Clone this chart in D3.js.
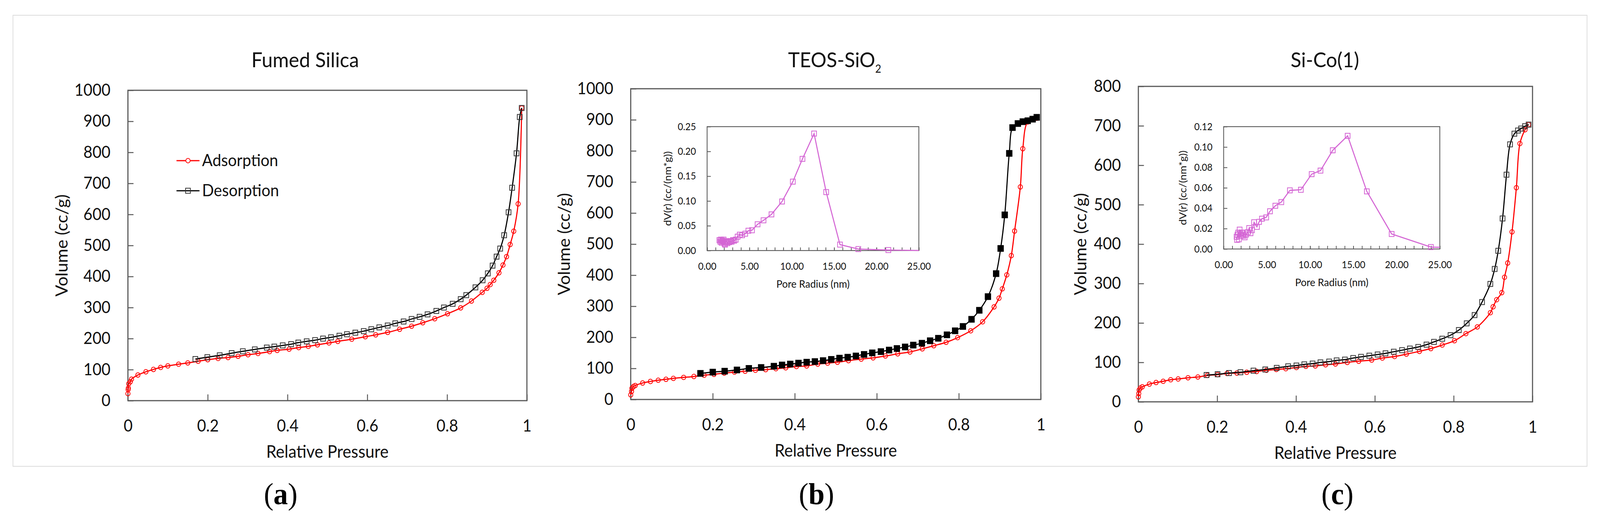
<!DOCTYPE html>
<html><head><meta charset="utf-8">
<script src="https://cdn.jsdelivr.net/npm/d3@7"></script>
<style>html,body{margin:0;padding:0;background:#fff;overflow:hidden;width:100%;height:100%;} svg{display:block;width:100vw;height:100vh;}</style>
</head><body>
<svg id="chart" viewBox="0 0 4315 1338" preserveAspectRatio="none"></svg>
<script>
// ================= DATA =================
const panelTitles = ["Fumed Silica", "TEOS-SiO", "Si-Co(1)"];
const titleSubscripts = ["", "2", ""];
const panelLetters = ["a", "b", "c"];
const seriesNames = ["Adsorption", "Desorption"];
const xAxisTitle = "Relative Pressure";
const yAxisTitle = "Volume (cc/g)";
const insetXTitle = "Pore Radius (nm)";
const insetYTitle = "dV(r) (cc/(nm*g))";

const pressureTicks = [0, 0.2, 0.4, 0.6, 0.8, 1];
const volumeTicks1000 = [0, 100, 200, 300, 400, 500, 600, 700, 800, 900, 1000];
const volumeTicks800 = [0, 100, 200, 300, 400, 500, 600, 700, 800];
const radiusLabelTicks = [0, 5, 10, 15, 20, 25];
const radiusMinorTicks = d3.range(0, 26, 1);
const teosPoreTicks = [0, 0.05, 0.10, 0.15, 0.20, 0.25];
const sicoPoreTicks = [0, 0.02, 0.04, 0.06, 0.08, 0.10, 0.12];

// (a) Fumed silica
const fumedAdsP = [0.000,0.0005,0.001,0.002,0.006,0.009,0.025,0.045,0.064,0.082,0.100,0.127,0.150,0.176,0.200,0.226,0.251,0.276,0.301,0.326,0.355,0.374,0.404,0.428,0.452,0.475,0.504,0.526,0.561,0.595,0.621,0.651,0.681,0.711,0.739,0.769,0.801,0.834,0.861,0.888,0.900,0.908,0.917,0.930,0.940,0.949,0.958,0.967,0.978,0.987];
const fumedAdsV = [22.6,35.6,40.6,54.5,60.8,69.2,82.6,93,100.6,107,112,117.4,121.6,127,132,136,139,143,148,152,158,162,166,171,175,180,186,191,198,206,212,220,230,240,251,264,280,299,321,349,362,374,388,412,437,464,503,546,634,943];
const fumedDesP = [0.987,0.982,0.974,0.963,0.954,0.943,0.933,0.924,0.914,0.902,0.889,0.871,0.848,0.834,0.814,0.792,0.773,0.751,0.731,0.711,0.691,0.670,0.651,0.630,0.610,0.591,0.570,0.549,0.530,0.509,0.489,0.469,0.448,0.427,0.409,0.388,0.367,0.348,0.318,0.288,0.260,0.230,0.199,0.169];
const fumedDesV = [943,914,797,686,607,533,490,464,435,410,388,365,340,327,312,300,289,278,270,263,255,249,242,236,230,224,219,214,209,204,200,195,191,187,182,178,174,171,165,159,153,146,140,134];

// (b) TEOS-SiO2
const teosAdsP = [0.000,0.002,0.003,0.007,0.011,0.029,0.048,0.067,0.086,0.104,0.129,0.154,0.179,0.203,0.228,0.253,0.279,0.304,0.329,0.354,0.378,0.404,0.429,0.456,0.480,0.504,0.531,0.562,0.591,0.621,0.651,0.681,0.711,0.739,0.769,0.797,0.829,0.858,0.886,0.898,0.906,0.917,0.928,0.936,0.950,0.956,0.968,0.990];
const teosAdsV = [15,26,36,42,45,53,58,62,65,68,71,74,78,81,85,88,91,94,96,99,102,106,108,114,117,120,125,130,134,140,147,153,163,173,184,199,221,250,298,326,356,401,463,542,684,807,893,905];
const teosDesP = [0.990,0.980,0.968,0.956,0.944,0.931,0.923,0.912,0.902,0.891,0.871,0.850,0.831,0.810,0.791,0.771,0.750,0.730,0.710,0.689,0.669,0.649,0.630,0.610,0.589,0.569,0.549,0.529,0.509,0.489,0.469,0.449,0.429,0.409,0.389,0.369,0.349,0.318,0.288,0.259,0.229,0.200,0.170];
const teosDesV = [908,902,897,894,888,875,792,594,486,405,331,287,258,235,221,208,197,189,181,175,169,164,159,154,150,145,140,136,133,129,125,122,120,117,114,111,107,103,100,95,91,88,84];
const teosPoreR = [1.45,1.55,1.62,1.70,1.78,1.86,1.95,2.05,2.12,2.20,2.30,2.40,2.50,2.62,2.75,2.90,3.05,3.20,3.38,3.60,3.85,4.14,4.50,4.87,5.30,5.96,6.66,7.60,8.85,10.12,11.26,12.63,14.06,15.69,17.85,21.40,25.50];
const teosPoreDV = [0.021,0.018,0.022,0.016,0.020,0.019,0.022,0.014,0.012,0.017,0.019,0.015,0.018,0.017,0.019,0.018,0.021,0.020,0.022,0.028,0.032,0.031,0.034,0.040,0.041,0.053,0.061,0.073,0.099,0.139,0.185,0.236,0.118,0.012,0.003,0.001,0.000];

// (c) Si-Co(1)
const sicoAdsP = [0.000,0.001,0.002,0.005,0.010,0.028,0.045,0.063,0.082,0.101,0.126,0.151,0.175,0.201,0.225,0.250,0.275,0.300,0.325,0.350,0.374,0.401,0.425,0.449,0.475,0.500,0.530,0.559,0.592,0.619,0.650,0.680,0.713,0.742,0.771,0.802,0.831,0.860,0.893,0.900,0.909,0.922,0.929,0.937,0.948,0.959,0.968,0.981,0.990];
const sicoAdsV = [12.7,21,30,35,38,45,49,52,56,58,61,63,67,69,72,73,75,77,80,82,84,87,90,91,94,96,100,103,106,111,115,121,128,135,144,155,173,190,226,241,259,277,316,352,431,543,655,690,703];
const sicoDesP = [0.990,0.981,0.971,0.963,0.954,0.943,0.934,0.924,0.913,0.904,0.893,0.872,0.853,0.833,0.813,0.792,0.771,0.750,0.731,0.710,0.689,0.669,0.648,0.627,0.607,0.586,0.565,0.545,0.524,0.503,0.484,0.462,0.442,0.421,0.401,0.380,0.351,0.322,0.292,0.259,0.230,0.201,0.173];
const sicoDesV = [703,699,693,688,680,653,576,465,383,337,299,253,220,199,182,169,160,152,145,139,135,131,127,123,120,117,114,111,107,105,102,100,97,95,92,90,86,82,79,75,73,70,68];
const sicoPoreR = [1.50,1.55,1.60,1.68,1.76,1.85,1.92,2.00,2.10,2.20,2.30,2.44,2.60,2.80,2.95,3.11,3.28,3.52,3.85,4.10,4.43,4.92,5.36,5.98,6.67,7.66,8.93,10.18,11.20,12.62,14.34,16.56,19.43,23.97,25.50];
const sicoPoreDV = [0.012,0.009,0.014,0.016,0.0095,0.019,0.015,0.013,0.016,0.016,0.013,0.0115,0.0142,0.0165,0.0205,0.0155,0.0185,0.0262,0.0217,0.0266,0.0297,0.031,0.037,0.0424,0.046,0.0575,0.0581,0.0734,0.0769,0.0968,0.111,0.0565,0.0147,0.0019,0.0015];

// ================= LAYOUT / STYLE =================
const FONT = "Lato, 'Noto Sans', sans-serif";
const AXIS_COLOR = "#595959";
const RED = "#ff0000";
const PINK = "#d466d4";

const layout = [
  {left:345, right:1421, top:231, bottom:1025, titleX:823, yLabelX:167, letterX:757},
  {left:1701, right:2807, top:227, bottom:1022, titleX:2251, yLabelX:1522, letterX:2202,
   inset:{left:1907, right:2478, top:324, bottom:641, yLabelX:1800}},
  {left:3070, right:4133, top:221, bottom:1028, titleX:3573, yLabelX:2914, letterX:3607,
   inset:{left:3300, right:3883, top:324, bottom:637, yLabelX:3190}}
];

const panels = [
  {yMax:1000, yTicks:volumeTicks1000, ads:[fumedAdsP,fumedAdsV], des:[fumedDesP,fumedDesV], desFilled:false, legend:true},
  {yMax:1000, yTicks:volumeTicks1000, ads:[teosAdsP,teosAdsV], des:[teosDesP,teosDesV], desFilled:true,
   inset:{yMax:0.25, yTicks:teosPoreTicks, r:teosPoreR, dv:teosPoreDV}},
  {yMax:800, yTicks:volumeTicks800, ads:[sicoAdsP,sicoAdsV], des:[sicoDesP,sicoDesV], desFilled:false,
   inset:{yMax:0.12, yTicks:sicoPoreTicks, r:sicoPoreR, dv:sicoPoreDV}}
];

const svg = d3.select("#chart");
svg.append("rect").attr("width",4315).attr("height",1338).attr("fill","#fff");
svg.append("rect").attr("x",35).attr("y",39).attr("width",4245).attr("height",1154)
  .attr("fill","none").attr("stroke","#dcdcdc").attr("stroke-width",2);

function styleAxis(g, fontSize, tickWidth) {
  g.select(".domain").remove();
  g.selectAll(".tick line").attr("stroke", AXIS_COLOR).attr("stroke-width", tickWidth);
  g.selectAll(".tick text").attr("fill","#111").attr("font-family",FONT).attr("font-size",fontSize);
  g.attr("font-family", null).attr("font-size", null);
}

function drawPanel(i) {
  const L = layout[i], P = panels[i];
  const x = d3.scaleLinear().domain([0,1]).range([L.left, L.right]);
  const y = d3.scaleLinear().domain([0,P.yMax]).range([L.bottom, L.top]);
  const g = svg.append("g");

  const gy = g.append("g").attr("transform",`translate(${L.left},0)`)
    .call(d3.axisLeft(y).tickValues(P.yTicks).tickFormat(d3.format("d"))
      .tickSizeInner(-15).tickSizeOuter(0).tickPadding(47));
  styleAxis(gy, 42, 2.5);
  const gx = g.append("g").attr("transform",`translate(0,${L.bottom})`)
    .call(d3.axisBottom(x).tickValues(pressureTicks).tickFormat(d => String(d))
      .tickSizeInner(-16).tickSizeOuter(0).tickPadding(49));
  styleAxis(gx, 42, 2.5);

  g.append("rect").attr("x",L.left).attr("y",L.top).attr("width",L.right-L.left).attr("height",L.bottom-L.top)
    .attr("fill","none").attr("stroke",AXIS_COLOR).attr("stroke-width",3);

  const t = g.append("text").attr("x",L.titleX).attr("y",172).attr("text-anchor","middle")
    .attr("font-family",FONT).attr("font-size",53).attr("fill","#111").text(panelTitles[i]);
  if (titleSubscripts[i]) t.append("tspan").attr("font-size",28).attr("dy",14).text(titleSubscripts[i]);

  g.append("text").attr("x",(L.left+L.right)/2).attr("y",L.bottom+146).attr("text-anchor","middle")
    .attr("font-family",FONT).attr("font-size",44).attr("fill","#111").text(xAxisTitle);
  g.append("text").attr("transform",`translate(${L.yLabelX},${(L.top+L.bottom)/2}) rotate(-90)`)
    .attr("dy","0.35em").attr("text-anchor","middle")
    .attr("font-family",FONT).attr("font-size",44).attr("fill","#111").text(yAxisTitle);

  const lt = g.append("text").attr("x",L.letterX).attr("y",1290).attr("text-anchor","middle")
    .attr("font-family","'Liberation Serif', 'DejaVu Serif', serif").attr("font-size",78).attr("fill","#000");
  lt.append("tspan").text("(");
  lt.append("tspan").attr("font-weight","bold").text(panelLetters[i]);
  lt.append("tspan").text(")");

  if (P.inset) drawInset(g, L.inset, P.inset, i);

  const line = d3.line().x(d=>x(d[0])).y(d=>y(d[1])).curve(d3.curveCatmullRom.alpha(0.5));
  const ads = d3.zip(P.ads[0], P.ads[1]);
  const des = d3.zip(P.des[0], P.des[1]);

  g.append("path").datum(ads).attr("d",line).attr("fill","none").attr("stroke",RED).attr("stroke-width",3);
  g.append("g").selectAll("circle").data(ads).join("circle")
    .attr("cx",d=>x(d[0])).attr("cy",d=>y(d[1])).attr("r",5.8)
    .attr("fill","none").attr("stroke",RED).attr("stroke-width",2);
  g.append("path").datum(des).attr("d",line).attr("fill","none").attr("stroke","#000").attr("stroke-width",3);
  const s = P.desFilled ? 15 : 13;
  g.append("g").selectAll("rect").data(des).join("rect")
    .attr("x",d=>x(d[0])-s/2).attr("y",d=>y(d[1])-s/2).attr("width",s).attr("height",s)
    .attr("fill",P.desFilled ? "#000" : "none").attr("stroke", P.desFilled ? "#000" : "#333").attr("stroke-width",2);

  if (P.legend) {
    const ly = [411, 488];
    seriesNames.forEach((name, k) => {
      const lg = g.append("g");
      lg.append("line").attr("x1",476).attr("x2",538).attr("y1",ly[k]).attr("y2",ly[k])
        .attr("stroke", k===0 ? RED : "#000").attr("stroke-width",3);
      if (k===0) lg.append("circle").attr("cx",507).attr("cy",ly[k]).attr("r",5.8)
        .attr("fill","#fff").attr("stroke",RED).attr("stroke-width",2);
      else lg.append("rect").attr("x",507-6.5).attr("y",ly[k]-6.5).attr("width",13).attr("height",13)
        .attr("fill","none").attr("stroke","#333").attr("stroke-width",2);
      lg.append("text").attr("x",545).attr("y",ly[k]+14).attr("font-family",FONT).attr("font-size",42)
        .attr("fill","#111").text(name);
    });
  }
}

function drawInset(g, IL, D, i) {
  const x = d3.scaleLinear().domain([0,25]).range([IL.left, IL.right]);
  const y = d3.scaleLinear().domain([0,D.yMax]).range([IL.bottom, IL.top]);
  const ig = g.append("g");
  ig.append("rect").attr("x",IL.left).attr("y",IL.top).attr("width",IL.right-IL.left).attr("height",IL.bottom-IL.top)
    .attr("fill","#fff");
  const gy = ig.append("g").attr("transform",`translate(${IL.left},0)`)
    .call(d3.axisLeft(y).tickValues(D.yTicks).tickFormat(d3.format(".2f"))
      .tickSizeInner(-10).tickSizeOuter(0).tickPadding(30));
  styleAxis(gy, 25, 2);
  const gxm = ig.append("g").attr("transform",`translate(0,${IL.bottom})`)
    .call(d3.axisBottom(x).tickValues(radiusMinorTicks).tickFormat("").tickSizeInner(-8).tickSizeOuter(0));
  styleAxis(gxm, 25, 2);
  const gx = ig.append("g").attr("transform",`translate(0,${IL.bottom})`)
    .call(d3.axisBottom(x).tickValues(radiusLabelTicks).tickFormat(d3.format(".2f"))
      .tickSizeInner(-8).tickSizeOuter(0).tickPadding(31));
  styleAxis(gx, 25, 2);
  ig.append("rect").attr("x",IL.left).attr("y",IL.top).attr("width",IL.right-IL.left).attr("height",IL.bottom-IL.top)
    .attr("fill","none").attr("stroke",AXIS_COLOR).attr("stroke-width",2.2);

  ig.append("text").attr("x",(IL.left+IL.right)/2).attr("y",IL.bottom+95).attr("text-anchor","middle")
    .attr("font-family",FONT).attr("font-size",27).attr("fill","#111").text(insetXTitle);
  ig.append("text").attr("transform",`translate(${IL.yLabelX},${(IL.top+IL.bottom)/2}) rotate(-90)`)
    .attr("dy","0.35em").attr("text-anchor","middle")
    .attr("font-family",FONT).attr("font-size",27).attr("fill","#111").text(insetYTitle);

  const clipId = "insetClip" + i;
  ig.append("clipPath").attr("id",clipId).append("rect")
    .attr("x",IL.left).attr("y",IL.top-10).attr("width",IL.right-IL.left).attr("height",IL.bottom-IL.top+20);
  const pts = d3.zip(D.r, D.dv);
  const line = d3.line().x(d=>x(d[0])).y(d=>y(d[1]));
  ig.append("path").datum(pts).attr("d",line).attr("clip-path",`url(#${clipId})`)
    .attr("fill","none").attr("stroke",PINK).attr("stroke-width",2.8);
  const s = 13;
  ig.append("g").selectAll("rect").data(pts.filter(d => d[0] <= 25)).join("rect")
    .attr("x",d=>x(d[0])-s/2).attr("y",d=>y(d[1])-s/2).attr("width",s).attr("height",s)
    .attr("fill","none").attr("stroke",PINK).attr("stroke-width",2);
}

[0,1,2].forEach(drawPanel);
</script>
</body></html>
